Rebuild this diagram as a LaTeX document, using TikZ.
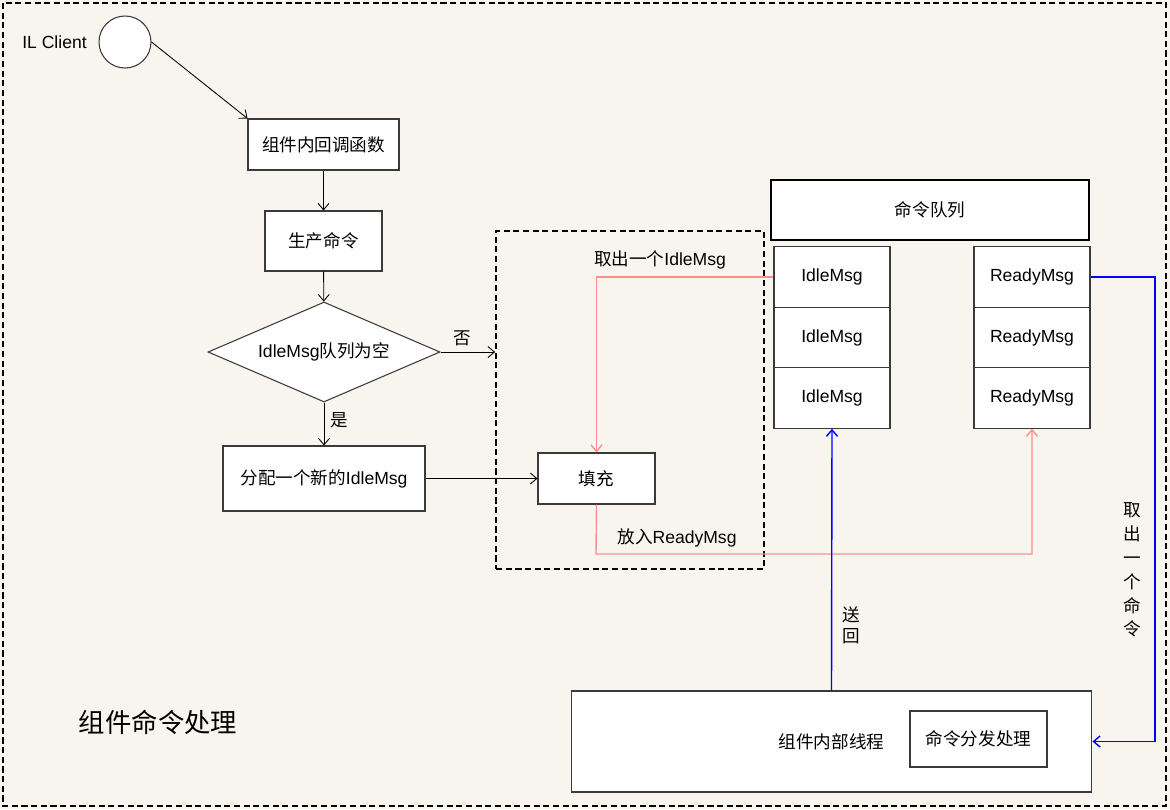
\documentclass[tikz,border=0pt]{standalone}
\usepackage{fontspec}
\setmainfont{Liberation Sans}
\newfontfamily\cjk{Noto Sans CJK SC}
\usetikzlibrary{shapes.geometric,arrows.meta}
\definecolor{fond}{HTML}{F8F5EE}
\definecolor{rose}{HTML}{FF8F8F}
\definecolor{bord}{HTML}{3A3A3A}
\tikzset{
  boite/.style={draw=bord, fill=white, line width=0.6pt, inner sep=0pt,
    font=\fontsize{10}{12}\selectfont},
  fleche/.style={-{Straight Barb[length=1.3mm,width=2.2mm]}},
  tirets/.style={draw=black, dash pattern=on 3.5pt off 2pt, line width=1pt},
  chemin/.style={fleche, line width=0.8pt},
}
\begin{document}
\begin{tikzpicture}[x=0.02cm, y=-0.02cm, line width=0.5pt]
    \useasboundingbox (0,0) rectangle (1170,809);
    \fill[fond] (0,0) rectangle (1170,809);
    % Cadre
    \draw[tirets] (3,3) rectangle (1166,806);
    \node[font=\fontsize{15}{18}\selectfont\cjk] (titre) at (158,722) {组件命令处理};

    % Client
    \node[anchor=west, font=\fontsize{10}{12}\selectfont] (ilc) at (16,42) {IL Client};
    \node[circle, draw=bord, fill=white, line width=0.6pt, minimum size=1.04cm,
      inner sep=0pt] (client) at (125,42) {};

    % Organigramme
    \node[boite, minimum width=3.02cm, minimum height=1.02cm] (rappel)
      at (323.5,144.5) {\cjk 组件内回调函数};
    \node[boite, minimum width=2.34cm, minimum height=1.2cm] (prod)
      at (323.5,241) {\cjk 生产命令};
    \node[boite, diamond, aspect=2.32, minimum width=4.64cm, minimum height=2cm]
      (test) at (324,352) {IdleMsg{\cjk 队列为空}};
    \node[boite, minimum width=4.04cm, minimum height=1.3cm] (alloc)
      at (324,478.5) {{\cjk 分配一个新的}IdleMsg};

    \draw[fleche] (client.east) -- (rappel.north west);
    \draw[fleche] (rappel) -- (prod);
    \draw[fleche] (prod) -- (test);
    \draw[fleche] (test) -- (alloc) node[right, pos=0.4,
      font=\fontsize{10}{12}\selectfont\cjk] {是};

    % Zone de remplissage
    \node[tirets, minimum width=5.36cm, minimum height=6.76cm, inner sep=0pt]
      (zone) at (630,400) {};
    \node[boite, minimum width=2.34cm, minimum height=1.02cm] (remplir)
      at (596.5,478.5) {\cjk 填充};
    \draw[fleche] (test.east) -- (test.east -| zone.west) node[above, pos=0.4,
      font=\fontsize{10}{12}\selectfont\cjk] {否};
    \draw[fleche] (alloc) -- (remplir);

    % Files
    \node[boite, draw=black, line width=1.2pt, minimum width=6.36cm,
      minimum height=1.2cm] (file) at (930,210) {\cjk 命令队列};
    \foreach \i/\y in {1/277, 2/337.5, 3/398} {
      \node[boite, minimum width=2.32cm, minimum height=1.21cm] (idle\i)
        at (832,\y) {IdleMsg};
      \node[boite, minimum width=2.32cm, minimum height=1.21cm] (ready\i)
        at (1032,\y) {ReadyMsg};
    }

    % Thread
    \node[boite, minimum width=10.42cm, minimum height=2.02cm] (thread)
      at (831.5,741.5) {\cjk 组件内部线程};
    \node[boite, minimum width=2.74cm, minimum height=1.12cm] (dispatch)
      at (978.5,739) {\cjk 命令分发处理};

    % Chemins des messages
    \draw[rose, chemin] (idle1.west) -| (remplir.north);
    \node[font=\fontsize{10}{12}\selectfont] (prendre) at (660,260)
      {{\cjk 取出一个}IdleMsg};
    \coordinate (bas) at (596,554);
    \draw[rose, chemin] (remplir.south) -- (bas) -| (ready3.south);
    \node[font=\fontsize{10}{12}\selectfont] (poser) at (677,538)
      {{\cjk 放入}ReadyMsg};

    \coordinate (coin) at (1155,277);
    \draw[blue, chemin] (ready1.east) -- (coin) |- (thread.east);
    \node[align=center, font=\fontsize{10}{13.6}\selectfont\cjk] (extraire)
      at (1132,570) {取\\出\\一\\个\\命\\令};
    \draw[blue, chemin] (thread.north) -- (idle3.south);
    \node[align=center, font=\fontsize{10}{12}\selectfont\cjk] (renvoi)
      at (851,625) {送\\回};
  \end{tikzpicture}
\end{document}
